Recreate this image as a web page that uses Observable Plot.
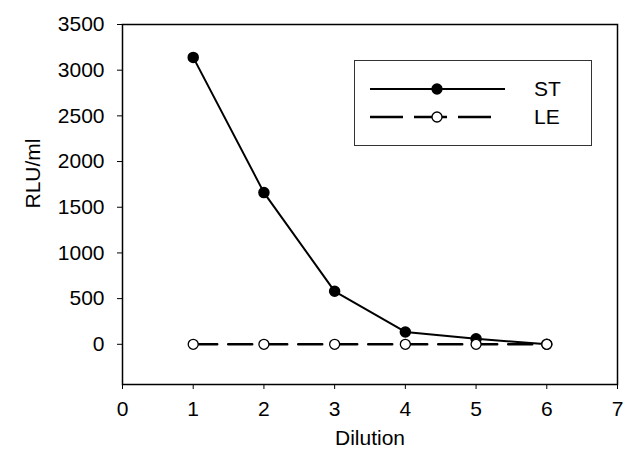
<!DOCTYPE html>
<html><head><meta charset="utf-8">
<script src="https://cdn.jsdelivr.net/npm/d3@7"></script>
<script src="https://cdn.jsdelivr.net/npm/@observablehq/plot@0.6"></script>
<style>
body{margin:0;background:#fff;font-family:"Liberation Sans",Arial,sans-serif}
#wrap{position:relative;width:644px;height:467px}
#legend{position:absolute;left:354px;top:60px;width:238px;height:86px;border:1px solid #333;background:#fff;box-sizing:border-box}
</style>
</head><body><div id="wrap"></div>
<script>
const dilution = [1, 2, 3, 4, 5, 6];
const st = [3140, 1660, 580, 135, 60, 0];
const le = [0, 0, 0, 0, 0, 0];
const xTicks = [0, 1, 2, 3, 4, 5, 6, 7];
const yTicks = [0, 500, 1000, 1500, 2000, 2500, 3000, 3500];
const seriesNames = ["ST", "LE"];

const stData = dilution.map((d, i) => ({x: d, y: st[i]}));
const leData = dilution.map((d, i) => ({x: d, y: le[i]}));
const FS = 21;

const chart = Plot.plot({
  width: 644, height: 467,
  marginLeft: 122, marginRight: 27, marginTop: 24, marginBottom: 83,
  style: {fontFamily: '"Liberation Sans", Arial, sans-serif', fontSize: FS + "px", color: "#000", background: "#fff"},
  x: {domain: [0, 7], ticks: xTicks, tickFormat: d => String(d), tickSize: 5, tickPadding: 12, label: null},
  y: {domain: [-440, 3500], ticks: yTicks, tickFormat: d => String(d), tickSize: 5, tickPadding: 13, label: null},
  marks: [
    Plot.frame({stroke: "#000", strokeWidth: 1.5}),
    Plot.line(stData, {x: "x", y: "y", stroke: "#000", strokeWidth: 2}),
    Plot.dot(stData, {x: "x", y: "y", r: 5, fill: "#000", stroke: "#000"}),
    Plot.line(leData, {x: "x", y: "y", stroke: "#000", strokeWidth: 2.5, strokeDasharray: "24,11"}),
    Plot.dot(leData, {x: "x", y: "y", r: 5, fill: "#fff", stroke: "#000", strokeWidth: 1.3}),
    Plot.text(["Dilution"], {frameAnchor: "bottom", dy: 60, fontSize: FS, fill: "#000"}),
    Plot.text(["RLU/ml"], {frameAnchor: "left", dx: -89, dy: 4, rotate: -90, fontSize: FS, fill: "#000"})
  ]
});
const wrap = document.getElementById("wrap");
wrap.appendChild(chart);

// legend
const lg = document.createElement("div");
lg.id = "legend";
const svgNS = "http://www.w3.org/2000/svg";
const ls = document.createElementNS(svgNS, "svg");
ls.setAttribute("width", 236); ls.setAttribute("height", 84);
const rows = [
  {name: seriesNames[0], y: 28, x2: 150, dash: null, fill: "#000"},
  {name: seriesNames[1], y: 56, x2: 137, dash: "33,11", fill: "#fff"}
];
rows.forEach(r => {
  const l = document.createElementNS(svgNS, "line");
  l.setAttribute("x1", 15); l.setAttribute("x2", r.x2);
  l.setAttribute("y1", r.y); l.setAttribute("y2", r.y);
  l.setAttribute("stroke", "#000"); l.setAttribute("stroke-width", r.dash ? 2.5 : 2);
  if (r.dash) l.setAttribute("stroke-dasharray", r.dash);
  ls.appendChild(l);
  const c = document.createElementNS(svgNS, "circle");
  c.setAttribute("cx", 82); c.setAttribute("cy", r.y); c.setAttribute("r", 5);
  c.setAttribute("fill", r.fill); c.setAttribute("stroke", "#000"); c.setAttribute("stroke-width", 1.3);
  ls.appendChild(c);
  const t = document.createElementNS(svgNS, "text");
  t.setAttribute("x", 179); t.setAttribute("y", r.y); t.setAttribute("dy", "0.35em");
  t.setAttribute("font-size", FS); t.setAttribute("font-family", '"Liberation Sans", Arial, sans-serif');
  t.textContent = r.name;
  ls.appendChild(t);
});
lg.appendChild(ls);
wrap.appendChild(lg);
</script>
</body></html>
